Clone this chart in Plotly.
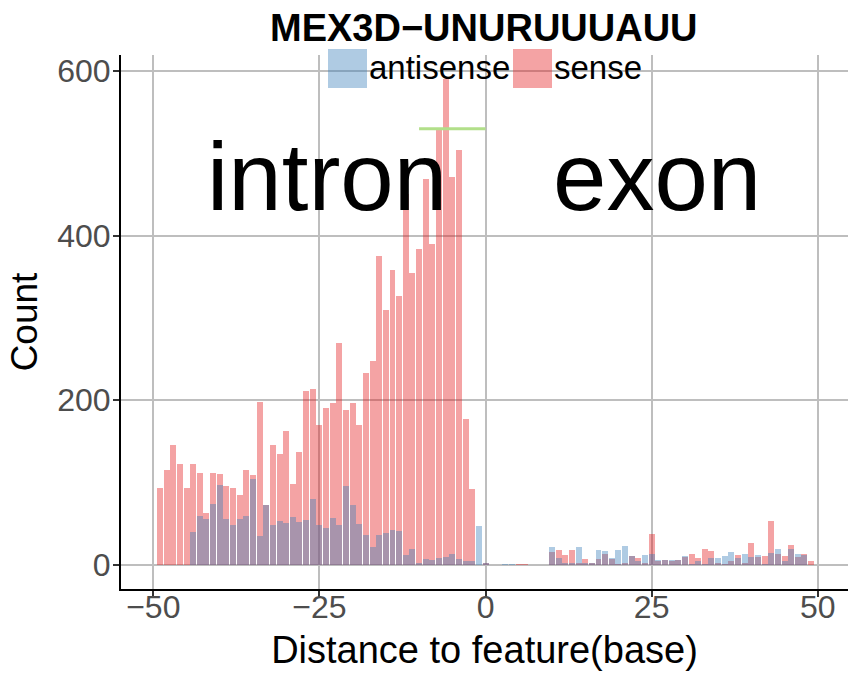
import plotly.graph_objects as go

# positions -49 .. 49
positions = list(range(-49, 50))

sense = [
    93, 115, 146, 123, 93, 123, 111, 63, 112, 110,      # -49..-40
    96, 93, 85, 115, 109, 198, 73, 145, 134, 162,       # -39..-30
    98, 137, 211, 214, 170, 190, 196, 270, 188, 196,    # -29..-20
    170, 233, 247, 375, 310, 358, 327, 450, 355, 384,   # -19..-10
    469, 390, 528, 590, 471, 504, 177, 92, 0, 2,        # -9..0
    0, 0, 0, 0, 1, 1, 0, 0, 0, 15,                      # 1..10
    18, 12, 18, 2, 7, 2, 7, 13, 7, 1,                   # 11..20
    2, 11, 8, 2, 37, 4, 6, 5, 6, 10,                    # 21..30
    13, 8, 19, 17, 2, 1, 4, 12, 2, 27,                  # 31..40
    10, 11, 53, 13, 11, 24, 10, 13, 4,                  # 41..49
]

antisense = [
    0, 0, 0, 0, 0, 40, 59, 56, 74, 97,                  # -49..-40
    56, 48, 56, 59, 104, 35, 73, 48, 53, 51,            # -39..-30
    58, 52, 54, 80, 48, 45, 57, 48, 96, 72,             # -29..-20
    50, 36, 22, 36, 39, 42, 41, 12, 19, 2,              # -19..-10
    7, 6, 8, 10, 13, 7, 4, 4, 47, 2,                    # -9..0
    0, 0, 1, 1, 0, 0, 0, 0, 0, 21,                      # 1..10
    8, 2, 2, 22, 2, 2, 18, 17, 8, 18,                   # 11..20
    23, 11, 4, 12, 13, 6, 6, 6, 6, 11,                  # 21..30
    1, 5, 1, 8, 8, 11, 16, 8, 13, 10,                   # 31..40
    12, 1, 14, 19, 4, 19, 13, 12, 0,                    # 41..49
]

marker_x = [-10, 0]
marker_y = [530, 530]

x_ticks = [-50, -25, 0, 25, 50]
x_tick_labels = ["\u221250", "\u221225", "0", "25", "50"]
y_ticks = [0, 200, 400, 600]
y_tick_labels = ["0", "200", "400", "600"]

title_text = "MEX3D\u2212UNURUUUAUU"

RED = "rgba(228,26,28,0.4)"
BLUE = "rgba(55,126,184,0.4)"
FONT = "Liberation Sans, Arial, sans-serif"

fig = go.Figure()
fig.add_trace(go.Bar(x=positions, y=sense, width=0.9, name="sense",
                     marker=dict(color=RED, line=dict(width=0)), showlegend=False))
fig.add_trace(go.Bar(x=positions, y=antisense, width=0.9, name="antisense",
                     marker=dict(color=BLUE, line=dict(width=0)), showlegend=False))
fig.add_trace(go.Scatter(x=marker_x, y=marker_y, mode="lines",
                         line=dict(color="#B2DF8A", width=3), showlegend=False,
                         hoverinfo="skip"))

W, H = 848, 678
L, R, T, B = 121, 0, 55, 89
pw, ph = W - L - R, H - T - B

def px2paper_x(px):
    return (px - L) / pw

def px2paper_y(py):
    return (H - B - py) / ph

shapes = [
    dict(type="rect", xref="paper", yref="paper", layer="above",
         x0=px2paper_x(328), x1=px2paper_x(367), y0=px2paper_y(88), y1=px2paper_y(49),
         fillcolor=BLUE, line=dict(width=0)),
    dict(type="rect", xref="paper", yref="paper", layer="above",
         x0=px2paper_x(513), x1=px2paper_x(552), y0=px2paper_y(88), y1=px2paper_y(49),
         fillcolor=RED, line=dict(width=0)),
]

annotations = [
    dict(text=title_text, xref="paper", yref="paper", x=px2paper_x(484), y=px2paper_y(28),
         xanchor="center", yanchor="middle", showarrow=False,
         font=dict(family=FONT, size=38, color="black", weight="bold")),
    dict(text="antisense", xref="paper", yref="paper", x=px2paper_x(367), y=px2paper_y(68),
         xanchor="left", yanchor="middle", showarrow=False,
         font=dict(family=FONT, size=33, color="black")),
    dict(text="sense", xref="paper", yref="paper", x=px2paper_x(552), y=px2paper_y(68),
         xanchor="left", yanchor="middle", showarrow=False,
         font=dict(family=FONT, size=33, color="black")),
    dict(text="intron", xref="x", yref="y", x=-23.8, y=472,
         xanchor="center", yanchor="middle", showarrow=False,
         font=dict(family=FONT, size=96, color="black")),
    dict(text="exon", xref="x", yref="y", x=25.8, y=472,
         xanchor="center", yanchor="middle", showarrow=False,
         font=dict(family=FONT, size=96, color="black")),
]

fig.update_layout(
    width=W, height=H,
    margin=dict(l=L, r=R, t=T, b=B, autoexpand=False),
    paper_bgcolor="white", plot_bgcolor="white",
    barmode="overlay", bargap=0,
    showlegend=False,
    shapes=shapes, annotations=annotations,
    font=dict(family=FONT),
)
fig.update_xaxes(
    range=[-54.86, 54.55], tickvals=x_ticks, ticktext=x_tick_labels,
    showgrid=True, gridcolor="#BEBEBE", gridwidth=2, zeroline=False,
    showline=True, linecolor="black", linewidth=2,
    ticks="outside", ticklen=6, tickwidth=2, tickcolor="#333333",
    tickfont=dict(family=FONT, size=32, color="#4D4D4D"),
    ticklabelstandoff=-17,
    title=dict(text="Distance to feature(base)", font=dict(family=FONT, size=38, color="black"), standoff=12),
)
fig.update_yaxes(
    range=[-29.5, 619.5], tickvals=y_ticks, ticktext=y_tick_labels,
    showgrid=True, gridcolor="#BEBEBE", gridwidth=2, zeroline=False,
    showline=True, linecolor="black", linewidth=2,
    ticks="outside", ticklen=6, tickwidth=2, tickcolor="#333333",
    tickfont=dict(family=FONT, size=32, color="#4D4D4D"),
    ticklabelstandoff=-4,
    title=dict(text="Count", font=dict(family=FONT, size=37, color="black"), standoff=8),
)

fig.write_html("out.html", config={"displayModeBar": False},
               post_script="document.body.style.margin='0';")
